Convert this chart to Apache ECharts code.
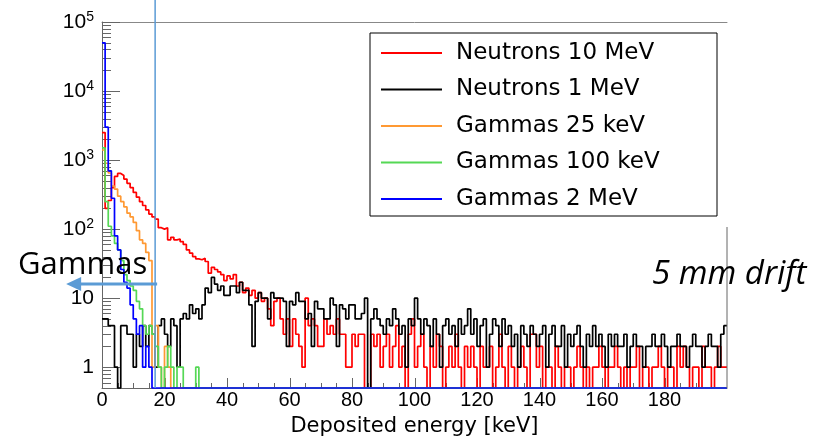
<!DOCTYPE html>
<html>
<head>
<meta charset="utf-8">
<script src="https://cdn.jsdelivr.net/npm/echarts@6/dist/echarts.min.js"></script>
<style>
  html, body { margin: 0; padding: 0; background: #fff; }
  #chart { width: 823px; height: 436px; }
</style>
</head>
<body>
<div id="chart"></div>
<script>
// histograms: 1 keV bins from 0 to 200 keV, counts per bin
const binWidth = 1;
const nBins = 200;
const seriesNames = ["Neutrons 10 MeV", "Neutrons 1 MeV", "Gammas 25 keV", "Gammas 100 keV", "Gammas 2 MeV"];
const seriesColors = ["#ff0000", "#000000", "#ff9933", "#55d855", "#0000ff"];

const neutrons10MeV = [
  2500, 200, 260, 400, 580, 640, 600, 530, 460, 400,
  340, 290, 250, 220, 190, 165, 150, 140, 105, 100,
  105, 70, 76, 70, 72, 66, 60, 50, 45, 40,
  37, 36, 38, 34, 23, 28, 26, 24, 22, 18,
  21, 19, 22, 15, 17, 12, 14, 11, 13, 10,
  12, 9, 10, 7, 4, 9, 10, 5, 3, 5,
  2, 5, 3, 2, 1, 10, 4, 5, 4, 2,
  2, 5, 3, 4, 3, 5, 3, 3, 1, 1,
  3, 2, 3, 3, 0, 0, 3, 2, 3, 1,
  2, 3, 1, 2, 4, 1, 2, 0, 3, 5,
  1, 2, 3, 1, 0, 2, 1, 3, 2, 0,
  1, 2, 1, 3, 1, 0, 2, 1, 2, 1,
  0, 2, 1, 1, 2, 0, 1, 3, 1, 0,
  2, 1, 0, 1, 2, 1, 0, 3, 3, 1,
  2, 0, 1, 1, 0, 2, 1, 0, 1, 1,
  0, 1, 2, 1, 0, 1, 0, 1, 1, 2,
  1, 0, 1, 1, 2, 1, 0, 1, 0, 1,
  1, 2, 0, 1, 1, 0, 1, 1, 2, 1,
  0, 1, 1, 0, 2, 1, 2, 1, 0, 1,
  1, 0, 2, 1, 1, 0, 1, 2, 1, 1
];
const neutrons1MeV = [
  5, 5, 4, 4, 1, 0, 4, 4, 3, 3,
  1, 3, 2, 4, 2, 4, 3, 1, 4, 5,
  3, 2, 5, 4, 1, 5, 6, 5, 8, 6,
  7, 5, 8, 14, 12, 20, 16, 13, 15, 11,
  11, 15, 15, 12, 17, 13, 13, 8, 2, 9,
  12, 10, 10, 5, 12, 10, 10, 10, 9, 2,
  9, 8, 12, 9, 9, 5, 6, 2, 9, 7,
  7, 5, 5, 10, 8, 2, 8, 7, 5, 8,
  8, 5, 5, 6, 10, 0, 5, 7, 5, 4,
  3, 5, 4, 7, 5, 3, 4, 1, 5, 4,
  10, 5, 3, 5, 4, 2, 5, 3, 1, 4,
  5, 3, 4, 2, 5, 3, 4, 7, 3, 5,
  2, 4, 5, 1, 3, 5, 4, 2, 5, 3,
  4, 2, 3, 1, 4, 3, 2, 4, 3, 2,
  3, 4, 1, 3, 4, 2, 2, 4, 1, 3,
  2, 3, 4, 2, 1, 3, 2, 4, 2, 3,
  2, 1, 3, 2, 3, 2, 2, 3, 1, 2,
  3, 2, 2, 1, 2, 2, 3, 2, 2, 3,
  2, 1, 2, 2, 3, 2, 2, 1, 2, 3,
  2, 2, 1, 2, 3, 2, 2, 1, 3, 4
];
// gamma spectra: listed bins, all later bins are empty
const gammas25keV = [1400, 900, 650, 420, 380, 300, 250, 210, 170, 150, 125, 95, 70, 62, 46, 35, 1, 4, 1, 0, 2, 1];
const gammas100keV = [1500, 250, 110, 80, 62, 50, 35, 22, 18, 15, 13, 9, 7, 4, 3, 4, 3, 2, 1, 0, 1, 2, 1, 0, 1, 1, 0, 0, 0, 0, 1];
const gammas2MeV = [50000, 3000, 700, 280, 80, 50, 26, 17, 14, 8, 5, 3, 4, 1, 2, 1];

const yMin = 0.5, yMax = 100000;
const yLabelValues = [1, 10, 100, 1000, 10000, 100000];
const yMinorTicks = [0.6, 0.7, 0.8, 0.9, 2, 3, 4, 5, 6, 7, 8, 9, 20, 30, 40, 50, 60, 70, 80, 90,
  200, 300, 400, 500, 600, 700, 800, 900, 2000, 3000, 4000, 5000, 6000, 7000, 8000, 9000,
  20000, 30000, 40000, 50000, 60000, 70000, 80000, 90000];
const xMajorTicks = [0, 20, 40, 60, 80, 100, 120, 140, 160, 180];
const xMinorStep = 5; // keV
const cutEnergy = 17; // keV, vertical marker

function histo(counts) {
  let pts = [];
  for (let i = 0; i < nBins; i++) {
    let c = counts[i] || 0;
    // empty bins are drawn on the bottom of the frame
    pts.push([i * binWidth, c > 0 ? c : yMin]);
  }
  pts.push([nBins * binWidth, pts[pts.length - 1][1]]);
  return pts;
}

let allCounts = [neutrons10MeV, neutrons1MeV, gammas25keV, gammas100keV, gammas2MeV];
let series = [];
for (let i = 0; i < allCounts.length; i++) {
  series.push({
    name: seriesNames[i],
    type: "line",
    step: "end",
    data: histo(allCounts[i]),
    showSymbol: false,
    symbol: "none",
    clip: false,
    animation: false,
    itemStyle: { color: seriesColors[i] },
    lineStyle: { color: seriesColors[i], width: 1.7 }
  });
}

let myChart = echarts.init(document.getElementById("chart"));
let option = {
  animation: false,
  grid: { left: 102, right: 96, top: 22, bottom: 48, outerBoundsMode: "none", containLabel: false },
  legend: {
    data: seriesNames,
    orient: "vertical",
    left: 381,
    top: 40,
    padding: 0,
    icon: "rect",
    itemWidth: 61,
    itemHeight: 2,
    itemGap: 10.5,
    textStyle: { fontFamily: "DejaVu Sans", fontSize: 23, lineHeight: 26, color: "#000", padding: [0, 0, 0, 9] }
  },
  xAxis: [{
    type: "value",
    min: 0,
    max: 200,
    interval: 20,
    name: "Deposited energy [keV]",
    nameLocation: "middle",
    nameGap: 28,
    nameMoveOverlap: false,
    nameTextStyle: { fontFamily: "DejaVu Sans", fontSize: 21, color: "#000" },
    axisLine: { show: true, lineStyle: { color: "#666" } },
    axisTick: { show: false },
    splitLine: { show: false },
    axisLabel: {
      margin: 2,
      fontFamily: "Liberation Sans",
      fontSize: 20,
      color: "#000",
      formatter: function (v) { return v >= 200 ? "" : String(v); }
    }
  }, {
    type: "value",
    min: 0,
    max: 200,
    position: "top",
    axisLine: { show: true, lineStyle: { color: "#888" } },
    axisTick: { show: false },
    axisLabel: { show: false },
    splitLine: { show: false }
  }],
  yAxis: {
    type: "log",
    logBase: 10,
    min: yMin,
    max: yMax,
    axisLine: { show: true, lineStyle: { color: "#666" } },
    axisTick: { show: false },
    splitLine: { show: false },
    axisLabel: {
      customValues: yLabelValues,
      margin: 8,
      formatter: function (v) {
        if (v === 1) return "{b|1}";
        if (v === 10) return "{b|10}";
        return "{b|10}{s|" + Math.round(Math.log10(v)) + "}";
      },
      rich: {
        b: { fontFamily: "Liberation Sans", fontSize: 21, color: "#000", lineHeight: 24 },
        s: { fontFamily: "Liberation Sans", fontSize: 14, color: "#000", verticalAlign: "top", lineHeight: 14, padding: [0, 0, 10, 0] }
      }
    }
  },
  series: series
};
myChart.setOption(option);

// frame ticks and annotations, placed from the axis scales
function px(x, y) {
  return myChart.convertToPixel({ xAxisIndex: 0, yAxisIndex: 0 }, [x, y]);
}
let graphics = [];
let tickStyle = { stroke: "#666", lineWidth: 1 };
function yTick(v, len) {
  let p = px(0, v);
  let y = Math.round(p[1]) + 0.5;
  graphics.push({ type: "line", z: 1, shape: { x1: p[0], y1: y, x2: p[0] + len, y2: y }, style: tickStyle });
}
function xTick(v, len) {
  let p = px(v, yMin);
  let x = Math.round(p[0]) + 0.5;
  graphics.push({ type: "line", z: 1, shape: { x1: x, y1: p[1], x2: x, y2: p[1] - len }, style: tickStyle });
}
yLabelValues.forEach(function (v) { yTick(v, 18); });
yMinorTicks.forEach(function (v) { yTick(v, 9); });
for (let e = 0; e < 200; e += xMinorStep) {
  xTick(e, xMajorTicks.indexOf(e) >= 0 ? 10 : 5);
}

let pCut = px(cutEnergy, 16);
let pBottom = px(cutEnergy, yMin);
let pRight = px(200, yMin);
let arrowY = pCut[1];
let arrowTip = pCut[0] - 89;

graphics.push(
  {
    type: "rect", z: 3,
    shape: { x: 370, y: 33, width: 347, height: 183 },
    style: { fill: "#fff", stroke: "#000", lineWidth: 1 }
  },
  {
    type: "line", z: 5,
    shape: { x1: pCut[0], y1: 0, x2: pCut[0], y2: pBottom[1] },
    style: { stroke: "#5b9bd5", lineWidth: 1.5 }
  },
  {
    type: "line", z: 5,
    shape: { x1: pRight[0], y1: 227, x2: pRight[0], y2: pRight[1] },
    style: { stroke: "#666", lineWidth: 1 }
  },
  {
    type: "text", z: 6,
    style: { x: 18, y: 265, text: "Gammas", fontFamily: "Open Sans", fontSize: 31, fill: "#000", verticalAlign: "middle" }
  },
  {
    type: "line", z: 6,
    shape: { x1: arrowTip + 14, y1: arrowY, x2: pCut[0] + 2, y2: arrowY },
    style: { stroke: "#5b9bd5", lineWidth: 3 }
  },
  {
    type: "polygon", z: 6,
    shape: { points: [[arrowTip, arrowY], [arrowTip + 15, arrowY - 7], [arrowTip + 15, arrowY + 7]] },
    style: { fill: "#5b9bd5" }
  },
  {
    type: "text", z: 6,
    style: { x: 652, y: 275, text: "5 mm drift", fontFamily: "Open Sans", fontStyle: "italic", fontSize: 33, fill: "#000", verticalAlign: "middle" }
  }
);

myChart.setOption({ graphic: graphics });

window.addEventListener("resize", function () {
  myChart.resize();
});
</script>
</body>
</html>
